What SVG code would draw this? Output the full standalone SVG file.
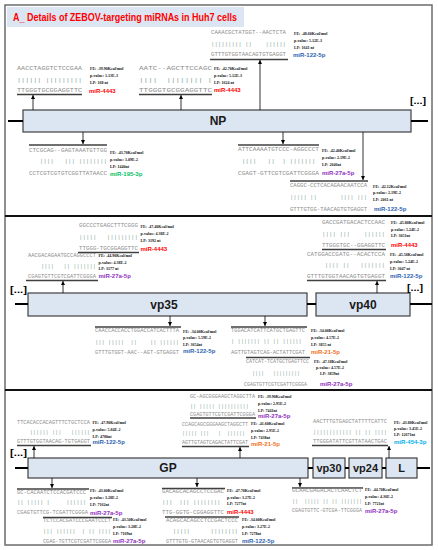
<svg xmlns="http://www.w3.org/2000/svg" width="438" height="550" viewBox="0 0 438 550">
<style>
.seq{font-family:"Liberation Mono",monospace;fill:#8c8c8c}
.pipe{font-family:"Liberation Mono",monospace;fill:#7f9f96}
.info{font-family:"Liberation Serif",serif;font-size:4px;font-weight:bold;fill:#111}
.mir{font-family:"Liberation Sans",Arial,sans-serif;font-weight:bold;font-size:6px}
.r{fill:#ff0000}.b{fill:#2e62b0}.g{fill:#00c060}.p{fill:#9030c0}.o{fill:#f07020}.c{fill:#00b0f0}
.bar{stroke:#404040;stroke-width:1.5}
.gene{fill:#dce6f2;stroke:#404040;stroke-width:1.2}
.gl{font-family:"Liberation Sans",Arial,sans-serif;font-weight:bold;font-size:12px;fill:#1a1a1a;text-anchor:middle}
.arr{stroke:#000;stroke-width:0.8;marker-end:url(#ah)}
.stub{stroke:#000;stroke-width:2}
.dots{font-family:"Liberation Sans",Arial,sans-serif;font-weight:bold;font-size:9px;fill:#000}
</style>
<defs>
<marker id="ah" markerWidth="4" markerHeight="4" refX="4" refY="2" orient="auto" markerUnits="userSpaceOnUse"><path d="M0,0 L4,2 L0,4 z" fill="#000"/></marker>
</defs>
<rect x="0" y="0" width="438" height="550" fill="#fff"/>
<rect x="5" y="5" width="427" height="540" fill="none" stroke="#6b6b6b" stroke-width="1.5"/>
<line x1="5" y1="216" x2="432" y2="216" stroke="#111" stroke-width="2"/>
<line x1="5" y1="390" x2="432" y2="390" stroke="#111" stroke-width="2"/>
<g id="title">
<rect x="7" y="7" width="237" height="20" fill="#dce6f2"/>
<text x="13" y="21" font-family="Liberation Sans, Arial, sans-serif" font-weight="bold" font-size="11" fill="#ff0000" textLength="224" lengthAdjust="spacingAndGlyphs">A_ Details of ZEBOV-targeting miRNAs in Huh7 cells</text>
</g>

<g id="genes">
<g id="NP"><rect class="gene" x="23" y="110" width="388" height="22"/><text class="gl" x="218" y="125">NP</text></g>
<g id="vp35"><rect class="gene" x="28" y="293" width="279" height="23"/><text class="gl" x="164" y="309">vp35</text></g>
<g id="vp40"><rect class="gene" x="316" y="293" width="94" height="23"/><text class="gl" x="363" y="309">vp40</text></g>
<g id="GP"><rect class="gene" x="28" y="458" width="280" height="20"/><text class="gl" x="168" y="472">GP</text></g>
<g id="vp30"><rect class="gene" x="313" y="458" width="32" height="20"/><text class="gl" x="329" y="472" style="font-size:11px">vp30</text></g>
<g id="vp24"><rect class="gene" x="349" y="458" width="33" height="20"/><text class="gl" x="365.5" y="472" style="font-size:11px">vp24</text></g>
<g id="L"><rect class="gene" x="386" y="458" width="31" height="20"/><text class="gl" x="401.5" y="472" style="font-size:11px">L</text></g>
</g>

<g id="ellipses">
<text class="dots" x="410" y="104" textLength="16" lengthAdjust="spacingAndGlyphs">[...]</text>
<text class="dots" x="10" y="293" textLength="17" lengthAdjust="spacingAndGlyphs">[...]</text>
<text class="dots" x="407" y="291" textLength="16" lengthAdjust="spacingAndGlyphs">[...]</text>
<text class="dots" x="10" y="456" textLength="17" lengthAdjust="spacingAndGlyphs">[...]</text>
</g>

<g id="connectors">
<line class="stub" x1="8" y1="121" x2="23" y2="121"/>
<line class="stub" x1="411" y1="121" x2="428" y2="121"/>
<line class="stub" x1="15" y1="304" x2="28" y2="304"/>
<line class="stub" x1="307" y1="304" x2="316" y2="304"/>
<line class="stub" x1="410" y1="304" x2="432" y2="304"/>
<line class="stub" x1="15" y1="468" x2="28" y2="468"/>
<line class="stub" x1="308" y1="468" x2="313" y2="468"/>
<line class="stub" x1="345" y1="468" x2="349" y2="468"/>
<line class="stub" x1="382" y1="468" x2="386" y2="468"/>
<line class="stub" x1="417" y1="468" x2="430" y2="468"/>
<line class="arr" x1="33" y1="110" x2="33" y2="95"/>
<line class="arr" x1="181" y1="110" x2="181" y2="95"/>
<line class="arr" x1="260" y1="110" x2="260" y2="60"/>
<line class="arr" x1="83" y1="132" x2="83" y2="144"/>
<line class="arr" x1="283" y1="132" x2="283" y2="144"/>
<line class="arr" x1="363" y1="132" x2="363" y2="180"/>
<line class="arr" x1="63" y1="293" x2="63" y2="281"/>
<line class="arr" x1="377" y1="293" x2="377" y2="281"/>
<line class="arr" x1="170" y1="316" x2="170" y2="326"/>
<line class="arr" x1="265" y1="316" x2="265" y2="326"/>
<line class="arr" x1="34" y1="458" x2="34" y2="446"/>
<line class="arr" x1="240" y1="458" x2="240" y2="447"/>
<line class="arr" x1="389" y1="458" x2="389" y2="446"/>
<line class="arr" x1="52" y1="478" x2="52" y2="488"/>
<line class="arr" x1="197" y1="478" x2="197" y2="487"/>
<line class="arr" x1="300" y1="478" x2="300" y2="487"/>
</g>

<g id="s1" font-size="6">
<text class="seq" x="17" y="70" textLength="65" lengthAdjust="spacingAndGlyphs">AACCTAGGTCTCCGAA</text>
<text class="pipe" x="17" y="82" textLength="65" lengthAdjust="spacingAndGlyphs" xml:space="preserve">|||||| |||||||||</text>
<text class="seq" x="17" y="92" textLength="65" lengthAdjust="spacingAndGlyphs">TTGGGTGCGGAGGTTC</text>
<line class="bar" x1="17" y1="94.5" x2="82" y2="94.5"/>
<text class="info" x="90" y="69.5">FE: -39.90Kcal/mol</text>
<text class="info" x="90" y="76.5">p-value: 1.13E-3</text>
<text class="info" x="90" y="83.5">LP: 168 nt</text>
<text class="mir r" x="89" y="93">miR-4443</text>
</g>
<g id="s2" font-size="6">
<text class="seq" x="139" y="70" textLength="73" lengthAdjust="spacingAndGlyphs">AATC--AGCTTCCAGC</text>
<text class="pipe" x="139" y="82" textLength="73" lengthAdjust="spacingAndGlyphs" xml:space="preserve">||||  |||||||| |</text>
<text class="seq" x="139" y="92" textLength="73" lengthAdjust="spacingAndGlyphs">TTGGGTGCGGAGGTTC</text>
<line class="bar" x1="139" y1="94.5" x2="212" y2="94.5"/>
<text class="info" x="214" y="69.5">FE: -42.70Kcal/mol</text>
<text class="info" x="214" y="76.5">p-value: 5.12E-3</text>
<text class="info" x="214" y="83.5">LP: 1624 nt</text>
<text class="mir r" x="214" y="92">miR-4443</text>
</g>
<g id="s3" font-size="5.65">
<text class="seq" x="211" y="34" textLength="75" lengthAdjust="spacingAndGlyphs">CAAACGCTATGGT--AACTCTA</text>
<text class="pipe" x="211" y="46" textLength="75" lengthAdjust="spacingAndGlyphs" xml:space="preserve">||||||||| ||    ||||||</text>
<text class="seq" x="211" y="56" textLength="75" lengthAdjust="spacingAndGlyphs">GTTTGTGGTAACAGTGTGAGGT</text>
<line class="bar" x1="210" y1="59.5" x2="288" y2="59.5"/>
<text class="info" x="294" y="34.5">FE: -48.60Kcal/mol</text>
<text class="info" x="294" y="41.5">p-value: 5.12E-3</text>
<text class="info" x="294" y="49">LP: 1641 nt</text>
<text class="mir b" x="293" y="57">miR-122-5p</text>
</g>
<g id="s4" font-size="5.85">
<line class="bar" x1="29" y1="145" x2="107" y2="145"/>
<text class="seq" x="29" y="152" textLength="78" lengthAdjust="spacingAndGlyphs">CTCGCAG--GAGTAAATGTTGG</text>
<text class="pipe" x="29" y="163" textLength="78" lengthAdjust="spacingAndGlyphs" xml:space="preserve">   ||||   ||| ||||||||</text>
<text class="seq" x="29" y="175" textLength="78" lengthAdjust="spacingAndGlyphs">CCTCGTCGTGTCGGTTATAACC</text>
<text class="info" x="110" y="154">FE: -43.70Kcal/mol</text>
<text class="info" x="110" y="161">p-value: 1.09E-2</text>
<text class="info" x="110" y="167.5">LP: 1440nt</text>
<text class="mir g" x="110" y="175.5">miR-195-3p</text>
</g>
<g id="s5" font-size="6">
<line class="bar" x1="238" y1="145" x2="319" y2="145"/>
<text class="seq" x="238" y="151" textLength="81" lengthAdjust="spacingAndGlyphs">ATTCAAAATGTCCC-AGGCCCT</text>
<text class="pipe" x="238" y="163" textLength="81" lengthAdjust="spacingAndGlyphs" xml:space="preserve"> ||||   ||  | ||||||| </text>
<text class="seq" x="238" y="175" textLength="81" lengthAdjust="spacingAndGlyphs">CGAGT-GTTCGTCGATTCGGGA</text>
<text class="info" x="322" y="152">FE: -42.40Kcal/mol</text>
<text class="info" x="322" y="159">p-value: 2.19E-2</text>
<text class="info" x="322" y="166">LP: 2046nt</text>
<text class="mir p" x="322" y="175">miR-27a-5p</text>
</g>
<g id="s6" font-size="5.6">
<line class="bar" x1="290" y1="181" x2="368" y2="181"/>
<text class="seq" x="290" y="187" textLength="77" lengthAdjust="spacingAndGlyphs">CAGGC-CCTCACAGAACAATCCA</text>
<text class="pipe" x="290" y="199" textLength="77" lengthAdjust="spacingAndGlyphs" xml:space="preserve">||||| ||       |||| |||</text>
<text class="seq" x="290" y="211" textLength="77" lengthAdjust="spacingAndGlyphs">GTTTGTGG-TAACAGTGTGAGGT</text>
<text class="info" x="373" y="187.5">FE: -42.12Kcal/mol</text>
<text class="info" x="373" y="193.5">p-value: 2.19E-2</text>
<text class="info" x="373" y="200.5">LP: 2061 nt</text>
<text class="mir b" x="374" y="211">miR-122-5p</text>
</g>

<g id="s7" font-size="5.75">
<text class="seq" x="79" y="227" textLength="59" lengthAdjust="spacingAndGlyphs">GGCCCTGAGCTTTCGGG</text>
<text class="pipe" x="79" y="239" textLength="59" lengthAdjust="spacingAndGlyphs" xml:space="preserve">|||||   |||||||||</text>
<text class="seq" x="79" y="250" textLength="59" lengthAdjust="spacingAndGlyphs">TTGGG-TGCGGAGGTTC</text>
<line class="bar" x1="78" y1="252.5" x2="139" y2="252.5"/>
<text class="info" x="140.5" y="227.5">FE: -47.40Kcal/mol</text>
<text class="info" x="140.5" y="234.5">p-value: 4.38E-2</text>
<text class="info" x="140.5" y="241.5">LP: 3192 nt</text>
<text class="mir r" x="140.5" y="251">miR-4443</text>
</g>
<g id="s8" font-size="5.45">
<text class="seq" x="28" y="257" textLength="68" lengthAdjust="spacingAndGlyphs">AACGACAGAATGCCAGGCCCT</text>
<text class="pipe" x="28" y="268" textLength="68" lengthAdjust="spacingAndGlyphs" xml:space="preserve">    ||||   || |||||||</text>
<text class="seq" x="28" y="277.5" textLength="68" lengthAdjust="spacingAndGlyphs">CGAGTGTTCGTCGATTCGGGA</text>
<line class="bar" x1="26" y1="280.5" x2="98" y2="280.5"/>
<text class="info" x="98.5" y="256.5">FE: -44.90Kcal/mol</text>
<text class="info" x="98.5" y="263.5">p-value: 4.38E-2</text>
<text class="info" x="98.5" y="269.5">LP: 3177 nt</text>
<text class="mir p" x="98.5" y="278">miR-27a-5p</text>
</g>
<g id="s9" font-size="5.8">
<text class="seq" x="322" y="224" textLength="63" lengthAdjust="spacingAndGlyphs">GACCGATGACACTCCAAC</text>
<text class="pipe" x="322" y="236" textLength="63" lengthAdjust="spacingAndGlyphs" xml:space="preserve">|||| |||    ||||||</text>
<text class="seq" x="322" y="247" textLength="63" lengthAdjust="spacingAndGlyphs">TTGGGTGC--GGAGGTTC</text>
<line class="bar" x1="322" y1="249.5" x2="386" y2="249.5"/>
<text class="info" x="391" y="223.5">FE: -45.80Kcal/mol</text>
<text class="info" x="391" y="230.5">p-value: 5.24E-2</text>
<text class="info" x="391" y="236.5">LP: 3051nt</text>
<text class="mir r" x="391" y="246.5">miR-4443</text>
</g>
<g id="s10" font-size="5.95">
<text class="seq" x="307" y="256" textLength="78" lengthAdjust="spacingAndGlyphs">CATGGACCGATG--ACACTCCA</text>
<text class="pipe" x="307" y="267" textLength="78" lengthAdjust="spacingAndGlyphs" xml:space="preserve">     |||| ||   |||||||</text>
<text class="seq" x="307" y="278" textLength="78" lengthAdjust="spacingAndGlyphs">GTTTGTGGTAACAGTGTGAGGT</text>
<line class="bar" x1="307" y1="280.5" x2="386" y2="280.5"/>
<text class="info" x="390" y="255.5">FE: -45.50Kcal/mol</text>
<text class="info" x="390" y="262.5">p-value: 5.24E-2</text>
<text class="info" x="390" y="269.5">LP: 3047 nt</text>
<text class="mir b" x="390" y="278">miR-122-5p</text>
</g>
<g id="s11" font-size="5.4">
<line class="bar" x1="95" y1="327" x2="181" y2="327"/>
<text class="seq" x="95" y="332" textLength="84" lengthAdjust="spacingAndGlyphs">CAACCACCACCTGGACCATCACTTTA</text>
<text class="pipe" x="95" y="344" textLength="84" lengthAdjust="spacingAndGlyphs" xml:space="preserve">||| |||||  ||    || ||||||</text>
<text class="seq" x="95" y="354" textLength="84" lengthAdjust="spacingAndGlyphs">GTTTGTGGT-AAC--AGT-GTGAGGT</text>
<text class="info" x="183" y="332.5">FE: -34.00Kcal/mol</text>
<text class="info" x="183" y="338.5">p-value: 5.59E-2</text>
<text class="info" x="183" y="345.5">LP: 3654nt</text>
<text class="mir b" x="183" y="353">miR-122-5p</text>
</g>
<g id="s12" font-size="5.4">
<line class="bar" x1="231" y1="327" x2="307" y2="327"/>
<text class="seq" x="231" y="332" textLength="74" lengthAdjust="spacingAndGlyphs">TGGACATCATTCATGCTGAGTTC</text>
<text class="pipe" x="231" y="343" textLength="74" lengthAdjust="spacingAndGlyphs" xml:space="preserve">| ||||||| || || |||||| </text>
<text class="seq" x="231" y="354" textLength="74" lengthAdjust="spacingAndGlyphs">AGTTGTAGTCAG-ACTATTCGAT</text>
<text class="info" x="311" y="331.5">FE: -34.00Kcal/mol</text>
<text class="info" x="311" y="338.5">p-value: 4.57E-2</text>
<text class="info" x="311" y="345.5">LP: 3855 nt</text>
<text class="mir o" x="311" y="354">miR-21-5p</text>
</g>
<g id="s13" font-size="5.05">
<line class="bar" x1="246" y1="357.5" x2="310" y2="357.5"/>
<text class="seq" x="246" y="363" textLength="63" lengthAdjust="spacingAndGlyphs">CATCAT-TCATGCTGAGTTCC</text>
<text class="pipe" x="246" y="375" textLength="63" lengthAdjust="spacingAndGlyphs" xml:space="preserve">  ||||   |||||||||   </text>
<text class="seq" x="244" y="386" textLength="63" lengthAdjust="spacingAndGlyphs">CGAGTGTTCGTCGATTCGGGA</text>
<text class="info" x="314" y="362.5">FE: -47.18Kcal/mol</text>
<text class="info" x="316" y="368.5">p-value: 4.57E-2</text>
<text class="info" x="320" y="374.5">LP: 3859nt</text>
<text class="mir p" x="320" y="386">miR-27a-5p</text>
</g>

<g id="s14" font-size="5.3">
<text class="seq" x="17" y="424" textLength="73" lengthAdjust="spacingAndGlyphs">TTCACACCACAGTTTCTGCTCCA</text>
<text class="pipe" x="17" y="434" textLength="73" lengthAdjust="spacingAndGlyphs" xml:space="preserve">    |||||| |||   ||||||</text>
<text class="seq" x="17" y="443" textLength="73" lengthAdjust="spacingAndGlyphs">GTTTGTGGTAACAG-TGTGAGGT</text>
<line class="bar" x1="17" y1="445.5" x2="91" y2="445.5"/>
<text class="info" x="92.5" y="423.5">FE: -47.90Kcal/mol</text>
<text class="info" x="92.5" y="430.5">p-value: 5.84E-2</text>
<text class="info" x="92.5" y="437.5">LP: 4780nt</text>
<text class="mir b" x="92.5" y="444">miR-122-5p</text>
</g>
<g id="s15" font-size="5.2">
<text class="seq" x="190" y="398" textLength="65" lengthAdjust="spacingAndGlyphs">GC-AGCGGGAAGCTAGGCTTA</text>
<text class="pipe" x="190" y="408" textLength="65" lengthAdjust="spacingAndGlyphs" xml:space="preserve">|| ||||| ||||||||||  </text>
<text class="seq" x="190" y="416" textLength="65" lengthAdjust="spacingAndGlyphs">CGAGTGTTCGTCGATTCGGGA</text>
<line class="bar" x1="190" y1="418" x2="256" y2="418"/>
<text class="info" x="258" y="397.5">FE: -39.90Kcal/mol</text>
<text class="info" x="258" y="404.5">p-value: 2.95E-2</text>
<text class="info" x="258" y="411.5">LP: 7441nt</text>
<text class="mir p" x="258" y="418">miR-27a-5p</text>
</g>
<g id="s16" font-size="5.05">
<text class="seq" x="182" y="426" textLength="66" lengthAdjust="spacingAndGlyphs">CCAGCAGCGGGAAGCTAGGCTT</text>
<text class="pipe" x="182" y="435" textLength="66" lengthAdjust="spacingAndGlyphs" xml:space="preserve">||||| |||   |  |||||| </text>
<text class="seq" x="182" y="444" textLength="66" lengthAdjust="spacingAndGlyphs">AGTTGTAGTCAGACTATTCGAT</text>
<line class="bar" x1="182" y1="446.5" x2="249" y2="446.5"/>
<text class="info" x="251" y="424.5">FE: -41.60Kcal/mol</text>
<text class="info" x="251" y="431.5">p-value: 2.95E-2</text>
<text class="info" x="251" y="438.5">LP: 7438nt</text>
<text class="mir o" x="251" y="445.5">miR-21-5p</text>
</g>
<g id="s17" font-size="5.4">
<text class="seq" x="313" y="423" textLength="74" lengthAdjust="spacingAndGlyphs">AACTTTGTGAGCTATTTTCATTC</text>
<text class="pipe" x="313" y="434" textLength="74" lengthAdjust="spacingAndGlyphs" xml:space="preserve">|||||||||||| || || ||||</text>
<text class="seq" x="313" y="443" textLength="74" lengthAdjust="spacingAndGlyphs">TTGGGATATTCGTTATAACTGAC</text>
<line class="bar" x1="312" y1="445.5" x2="388" y2="445.5"/>
<text class="info" x="394" y="423.5">FE: -43.80Kcal/mol</text>
<text class="info" x="394" y="429.5">p-value: 3.45E-2</text>
<text class="info" x="394" y="435.5">LP: 12671nt</text>
<text class="mir c" x="394" y="444">miR-454-3p</text>
</g>
<g id="s18" font-size="5.4">
<line class="bar" x1="17" y1="489" x2="89" y2="489"/>
<text class="seq" x="17" y="494" textLength="69" lengthAdjust="spacingAndGlyphs">GC-CACAATCTCCACGATCCC</text>
<text class="pipe" x="17" y="504" textLength="69" lengthAdjust="spacingAndGlyphs" xml:space="preserve">|| ||||| |     ||||||</text>
<text class="seq" x="17" y="514" textLength="71" lengthAdjust="spacingAndGlyphs">CGAGTGTTCG-TCGATTCGGGA</text>
<text class="info" x="90" y="491.5">FE: -43.00Kcal/mol</text>
<text class="info" x="90" y="498.5">p-value: 3.28E-2</text>
<text class="info" x="90" y="505.5">LP: 7162nt</text>
<text class="mir p" x="90" y="515">miR-27a-5p</text>
</g>
<g id="s19" font-size="5.2">
<line class="bar" x1="43" y1="517.5" x2="112" y2="517.5"/>
<text class="seq" x="43" y="522" textLength="68" lengthAdjust="spacingAndGlyphs">TCTCCACGATCCCGAATCCCT</text>
<text class="pipe" x="43" y="533" textLength="68" lengthAdjust="spacingAndGlyphs" xml:space="preserve">||| ||||||  | || ||||</text>
<text class="seq" x="43" y="542.5" textLength="68" lengthAdjust="spacingAndGlyphs">CGAG-TGTTCGTCGATTCGGGA</text>
<text class="info" x="113" y="520.5">FE: -43.50Kcal/mol</text>
<text class="info" x="113" y="527.5">p-value: 3.28E-2</text>
<text class="info" x="113" y="534.5">LP: 7169nt</text>
<text class="mir p" x="113" y="543">miR-27a-5p</text>
</g>
<g id="s20" font-size="5.8">
<line class="bar" x1="162" y1="488.5" x2="225" y2="488.5"/>
<text class="seq" x="162" y="493" textLength="62" lengthAdjust="spacingAndGlyphs">GACAGCACAGCCTCCGAC</text>
<text class="pipe" x="162" y="504" textLength="62" lengthAdjust="spacingAndGlyphs" xml:space="preserve">|||  ||| |||||||| </text>
<text class="seq" x="162" y="514" textLength="62" lengthAdjust="spacingAndGlyphs">TTG-GGTG-CGGAGGTTC</text>
<text class="info" x="227" y="491.5">FE: -47.70Kcal/mol</text>
<text class="info" x="227" y="498.5">p-value: 3.27E-2</text>
<text class="info" x="227" y="504.5">LP: 7277nt</text>
<text class="mir r" x="227" y="514">miR-4443</text>
</g>
<g id="s21" font-size="5.25">
<line class="bar" x1="165" y1="517" x2="239" y2="517"/>
<text class="seq" x="166" y="521.5" textLength="72" lengthAdjust="spacingAndGlyphs">ACAGCACAGCCTCCGACTCCC</text>
<text class="pipe" x="166" y="533" textLength="72" lengthAdjust="spacingAndGlyphs" xml:space="preserve">  |||||      ||||||||</text>
<text class="seq" x="166" y="543" textLength="72" lengthAdjust="spacingAndGlyphs">GTTTGTG-GTAACAGTGTGAGGT</text>
<text class="info" x="242" y="520.5">FE: -34.00Kcal/mol</text>
<text class="info" x="242" y="527.5">p-value: 3.27E-2</text>
<text class="info" x="242" y="534.5">LP: 7278nt</text>
<text class="mir b" x="242" y="542.5">miR-122-5p</text>
</g>
<g id="s22" font-size="5.1">
<line class="bar" x1="292" y1="488" x2="363" y2="488"/>
<text class="seq" x="292" y="492" textLength="70" lengthAdjust="spacingAndGlyphs">GCAACGAGACACTCAACTCT</text>
<text class="pipe" x="292" y="503" textLength="70" lengthAdjust="spacingAndGlyphs" xml:space="preserve">||  ||||| || || |||||||</text>
<text class="seq" x="292" y="512" textLength="70" lengthAdjust="spacingAndGlyphs">CGAGTGTTC-GTCGA-TTCGGGA</text>
<text class="info" x="365" y="490.5">FE: -44.70Kcal/mol</text>
<text class="info" x="365" y="497.5">p-value: 4.36E-2</text>
<text class="info" x="365" y="504.5">LP: 7721nt</text>
<text class="mir p" x="365" y="512.5">miR-27a-5p</text>
</g>
</svg>
